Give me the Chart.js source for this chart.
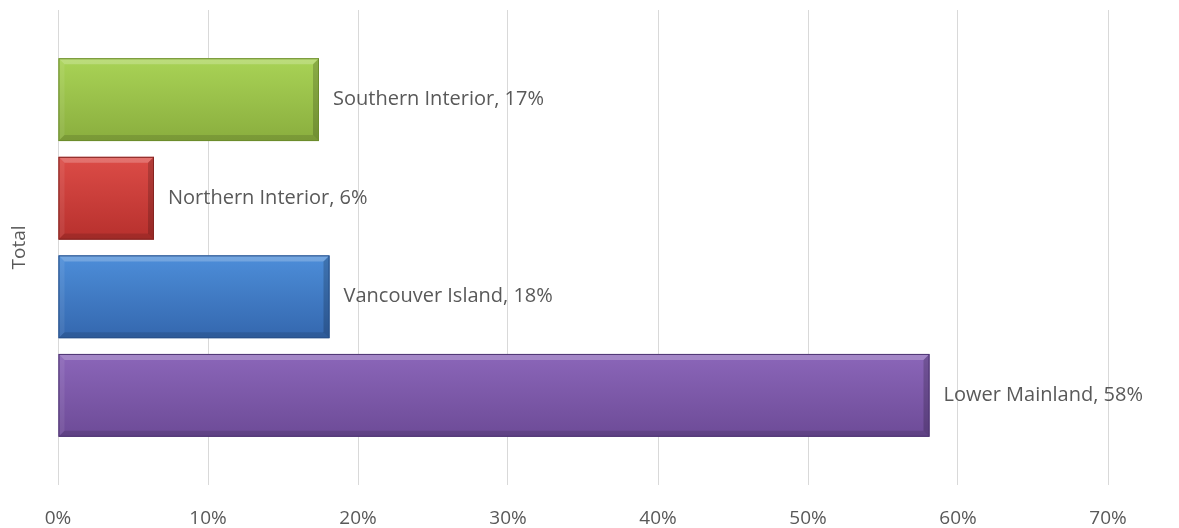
<!DOCTYPE html>
<html>
<head>
<meta charset="utf-8">
<script src="https://cdn.jsdelivr.net/npm/chart.js@4.4.0/dist/chart.umd.min.js"></script>
<style>
  html, body { margin: 0; padding: 0; background: #fff; }
  #wrap { width: 1179px; height: 528px; position: relative; }
</style>
</head>
<body>
<div id="wrap"><canvas id="chart"></canvas></div>
<script>
// data
const categories = ["Total"];
const regions = ["Southern Interior", "Northern Interior", "Vancouver Island", "Lower Mainland"];
const shares = [0.174, 0.064, 0.181, 0.581];
const shareLabels = ["17%", "6%", "18%", "58%"];
const xTicks = [0, 0.1, 0.2, 0.3, 0.4, 0.5, 0.6, 0.7];

// top colour, bottom colour, edge colour per region
const fills = [
  ["#a9d356", "#8aae3e", "#6c8c2c"],
  ["#dc4c47", "#b7302d", "#862421"],
  ["#4d8ed9", "#3467ae", "#27508a"],
  ["#8b66b9", "#6d4b97", "#4f3573"]
];

const textColor = "#595959";
const fontFam = "'Open Sans', 'DejaVu Sans', sans-serif";

const datasets = regions.map((r, i) => ({
  label: r,
  data: [shares[i]],
  backgroundColor: fills[i][1],
  borderColor: fills[i][2],
  borderWidth: 1,
  borderSkipped: false,
  categoryPercentage: 0.83,
  barPercentage: 0.84
}));

// gradient + bevel look, and the "Name, xx%" labels
const bevelPlugin = {
  id: "bevel",
  afterDatasetsDraw(chart) {
    const ctx = chart.ctx;
    chart.data.datasets.forEach((ds, i) => {
      const meta = chart.getDatasetMeta(i);
      meta.data.forEach((bar) => {
        const top = bar.y - bar.height / 2;
        const bot = bar.y + bar.height / 2;
        const left = bar.base;
        const right = bar.x;
        const g = ctx.createLinearGradient(0, top, 0, bot);
        g.addColorStop(0, fills[i][0]);
        g.addColorStop(1, fills[i][1]);
        ctx.save();
        ctx.fillStyle = g;
        ctx.fillRect(left, top, right - left, bot - top);
        // bevel: light top, dark bottom / right
        const b = 6;
        ctx.fillStyle = "rgba(255,255,255,0.22)";
        ctx.beginPath();
        ctx.moveTo(left, top); ctx.lineTo(right, top);
        ctx.lineTo(right - b, top + b); ctx.lineTo(left + b, top + b);
        ctx.closePath(); ctx.fill();
        ctx.fillStyle = "rgba(255,255,255,0.08)";
        ctx.beginPath();
        ctx.moveTo(left, top); ctx.lineTo(left + b, top + b);
        ctx.lineTo(left + b, bot - b); ctx.lineTo(left, bot);
        ctx.closePath(); ctx.fill();
        ctx.fillStyle = "rgba(0,0,0,0.12)";
        ctx.beginPath();
        ctx.moveTo(left, bot); ctx.lineTo(right, bot);
        ctx.lineTo(right - b, bot - b); ctx.lineTo(left + b, bot - b);
        ctx.closePath(); ctx.fill();
        ctx.fillStyle = "rgba(0,0,0,0.18)";
        ctx.beginPath();
        ctx.moveTo(right, top); ctx.lineTo(right, bot);
        ctx.lineTo(right - b, bot - b); ctx.lineTo(right - b, top + b);
        ctx.closePath(); ctx.fill();
        ctx.strokeStyle = fills[i][2];
        ctx.lineWidth = 1;
        ctx.strokeRect(left + 0.5, top + 0.5, right - left - 1, bot - top - 1);
        // label
        ctx.fillStyle = textColor;
        ctx.font = "20px " + fontFam;
        ctx.textAlign = "left";
        ctx.textBaseline = "middle";
        ctx.fillText(ds.label + ", " + shareLabels[i], right + 14, bar.y);
        ctx.restore();
      });
    });
  }
};

Chart.register(bevelPlugin);

new Chart(document.getElementById("chart"), {
  type: "bar",
  data: { labels: categories, datasets: datasets },
  options: {
    indexAxis: "y",
    responsive: true,
    maintainAspectRatio: false,
    animation: false,
    layout: { padding: { top: 10, right: 11, left: 0, bottom: 0 } },
    plugins: {
      legend: { display: false },
      tooltip: { enabled: false }
    },
    scales: {
      x: {
        min: 0,
        max: 0.74,
        afterBuildTicks(scale) {
          scale.ticks = xTicks.map(v => ({ value: v }));
        },
        afterFit(scale) { scale.height = 43; },
        grid: { color: "#d9d9d9", drawTicks: false },
        border: { display: false },
        ticks: {
          color: textColor,
          font: { size: 19, family: fontFam },
          padding: 22,
          callback: (v) => Math.round(v * 100) + "%"
        }
      },
      y: {
        afterFit(scale) { scale.width = 58; },
        grid: { display: false },
        border: { display: false },
        ticks: { display: false },
        title: {
          display: true,
          text: categories[0],
          color: textColor,
          font: { size: 19, family: fontFam },
          padding: { top: 8, bottom: 14 }
        }
      }
    }
  }
});
</script>
</body>
</html>
